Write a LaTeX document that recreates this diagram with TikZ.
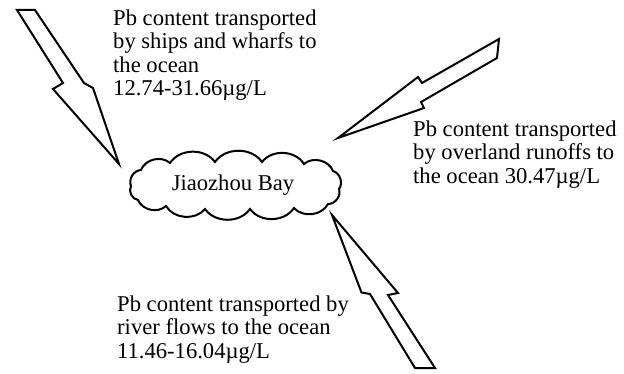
\documentclass[tikz,border=0pt]{standalone}
\usepackage{fontspec}
\setmainfont{Liberation Serif}
\tikzset{
    every node/.style={font=\fontsize{22.6}{23.4}\selectfont}
}
\tikzset{
    txt/.style={align=left, anchor=north west, inner sep=0pt},
    bolt/.style={draw, line width=2pt, line join=miter, fill=white},
    puff/.style={bend left=55}
}

\begin{document}
\begin{tikzpicture}[x=1pt, y=-1pt]
	\useasboundingbox (0,0) rectangle (624,374);

	% cloud
	\draw[line width=2pt] (131,186) to[puff] (141,170) to[puff] (170,163)
		to[puff] (215,162) to[puff] (262,162) to[puff] (304,164)
		to[puff] (333,171) to[puff] (339,189) to[puff] (328,204)
		to[puff] (294,208) to[puff] (250,209) to[puff] (205,209)
		to[puff] (166,206) to[puff] (138,200) to[puff] cycle;
	\node (bay) at (233,185) {Jiaozhou Bay};

	\node[txt] (ships) at (113,9.5) {Pb content transported\\by ships and wharfs to\\the ocean\\12.74-31.66µg/L};
	\node[txt] (runoff) at (413,120.5) {Pb content transported\\by overland runoffs to\\the ocean 30.47µg/L};
	\node[txt] (river) at (117,295.5) {Pb content transported by\\river flows to the ocean\\11.46-16.04µg/L};

	% bolts
	\draw[bolt] (17,10) -- (35,10) -- (84,83) -- (93,88) -- (119,164)
		-- (53,89) -- (63,83) -- cycle;
	\draw[bolt] (499,39) -- (497,58) -- (421,102) -- (424,108) -- (338,138)
		-- (418,77) -- (422,83) -- cycle;
	\draw[bolt] (332,215) -- (398,293) -- (388,295) -- (435,368)
		-- (415,368) -- (370,294) -- (361.5,292.5) -- cycle;
\end{tikzpicture}
\end{document}
